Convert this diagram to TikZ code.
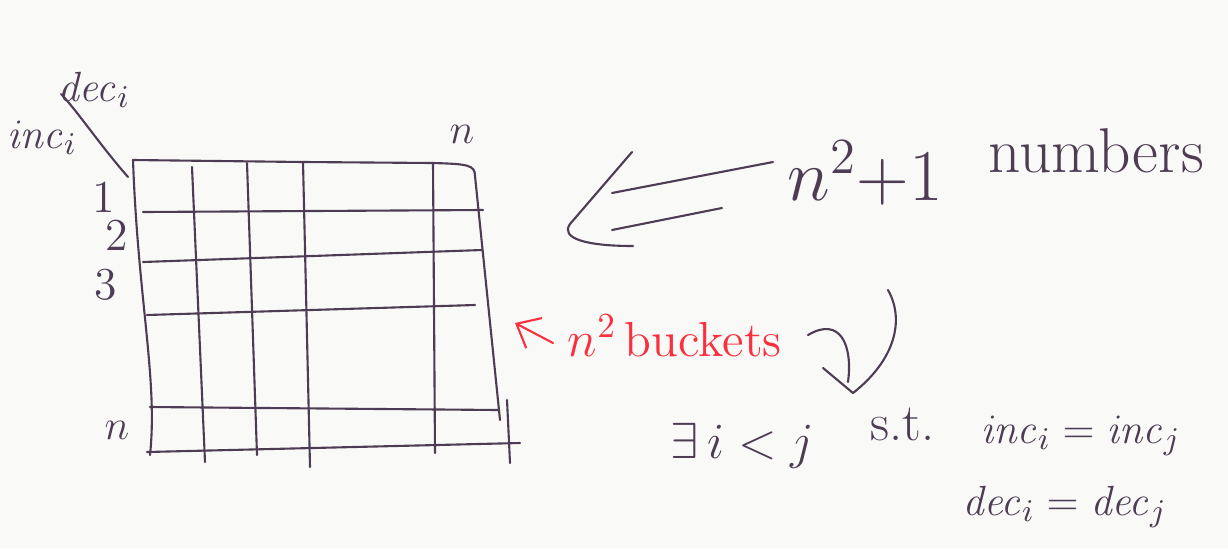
\documentclass[tikz,border=0pt]{standalone}
\usepackage{amsmath,amssymb}
\usepackage{xcolor}
\usepackage{tikz}
\usetikzlibrary{arrows.meta,positioning,calc}
\definecolor{tinta}{RGB}{78,60,84}
\definecolor{tintaVermelha}{RGB}{250,48,62}
\definecolor{papel}{RGB}{249,250,247}
\tikzset{
    traco/.style={
        draw=tinta,
        line width=0.6pt,
        line cap=round,
        line join=round
    },
    grade/.style={traco},
    escrita/.style={
        text=tinta,
        inner sep=0pt,
        anchor=base west,
        font=\fontsize{15}{18}\selectfont
    },
    escritaGrande/.style={escrita, font=\fontsize{22}{26}\selectfont},
    escritaMedia/.style={escrita, font=\fontsize{13}{16}\selectfont},
    rotuloGrade/.style={text=tinta, inner sep=0pt, font=\fontsize{13}{16}\selectfont},
    anotacao/.style={escrita, font=\fontsize{14}{17}\selectfont, text=tintaVermelha},
    fluxoVermelho/.style={
        draw=tintaVermelha,
        line width=0.6pt,
        line cap=round,
        -{Straight Barb[length=2mm, width=3.4mm]}
    }
}

\begin{document}
\begin{tikzpicture}[x=0.01cm, y=-0.01cm]
        \fill[papel] (0,0) rectangle (1228,548);
        \useasboundingbox (0,0) rectangle (1228,548);

        % grade n x n
        \draw[grade] (133,160) .. controls (138,300) and (158,380) .. (150,455);
        \draw[grade] (133,160) -- (303,162) -- (433,163)
            .. controls (468,164) and (475,165) .. (475,176) -- (500,420);
        \foreach \xa/\ya/\xb/\yb in {143/212/483/210, 143/262/482/250,
                147/315/475/305, 150/407/498/410, 147/452/520/443}
            \draw[grade] (\xa,\ya) -- (\xb,\yb);
        \foreach \xa/\ya/\xb/\yb in {192/167/205/462, 247/163/257/455,
                303/162/310/467, 433/163/435/453, 507/400/510/463}
            \draw[grade] (\xa,\ya) -- (\xb,\yb);

        \node[rotuloGrade] (lin1) at (104,197) {1};
        \node[rotuloGrade] (lin2) at (117,235) {2};
        \node[rotuloGrade] (lin3) at (106,285) {3};
        \node[rotuloGrade] (linN) at (117,430) {$n$};
        \node[rotuloGrade] (colN) at (462,134) {$n$};
        \node[rotuloGrade] (inc) at (42,138) {$\mathit{inc}_i$};
        \node[rotuloGrade] (dec) at (94,90) {$\mathit{dec}_i$};
        \coordinate (canto) at (128,177);
        \draw[traco] ($(dec.west)+(4,4)$) .. controls (78,112) and (100,145) .. (canto);

        % numeros
        \node[escritaGrande] (expr) at (787,200) {$n^2{+}1$};
        \node[escrita, font=\fontsize{18}{21}\selectfont] (numeros) at (988,172) {numbers};
        \coordinate (setaTopo) at (632,152);
        \coordinate (setaPonta) at (570,224);
        \coordinate (setaBase) at (633,246);
        \draw[traco] (setaTopo) -- (setaPonta)
            .. controls (560,238) and (585,246) .. (setaBase);
        \draw[traco] (773,162) -- (612,193);
        \draw[traco] (722,208) -- (612,230);

        % baldes
        \node[anotacao] (baldes) at (567,356) {$n^2$\,buckets};
        \coordinate (caudaVermelha) at (553,343);
        \coordinate (pontaVermelha) at (515,323);
        \draw[fluxoVermelho] (caudaVermelha) -- (pontaVermelha);

        \coordinate (curvaInicio) at (808,335);
        \coordinate (curvaPonta) at (853,393);
        \draw[traco] (curvaInicio) .. controls (840,316) and (853,345) .. (848,382);
        \draw[traco] (823,368) -- (curvaPonta)
            .. controls (895,360) and (905,320) .. (888,290);

        % conclusao
        \node[escrita] (existe) at (670,458) {$\exists\, i<j$};
        \node[escrita] (st) at (870,440) {s.t.};
        \node[escritaMedia] (incIgual) at (980,443) {$\mathit{inc}_i=\mathit{inc}_j$};
        \node[escritaMedia] (decIgual) at (962,515) {$\mathit{dec}_i=\mathit{dec}_j$};
    \end{tikzpicture}
\end{document}
